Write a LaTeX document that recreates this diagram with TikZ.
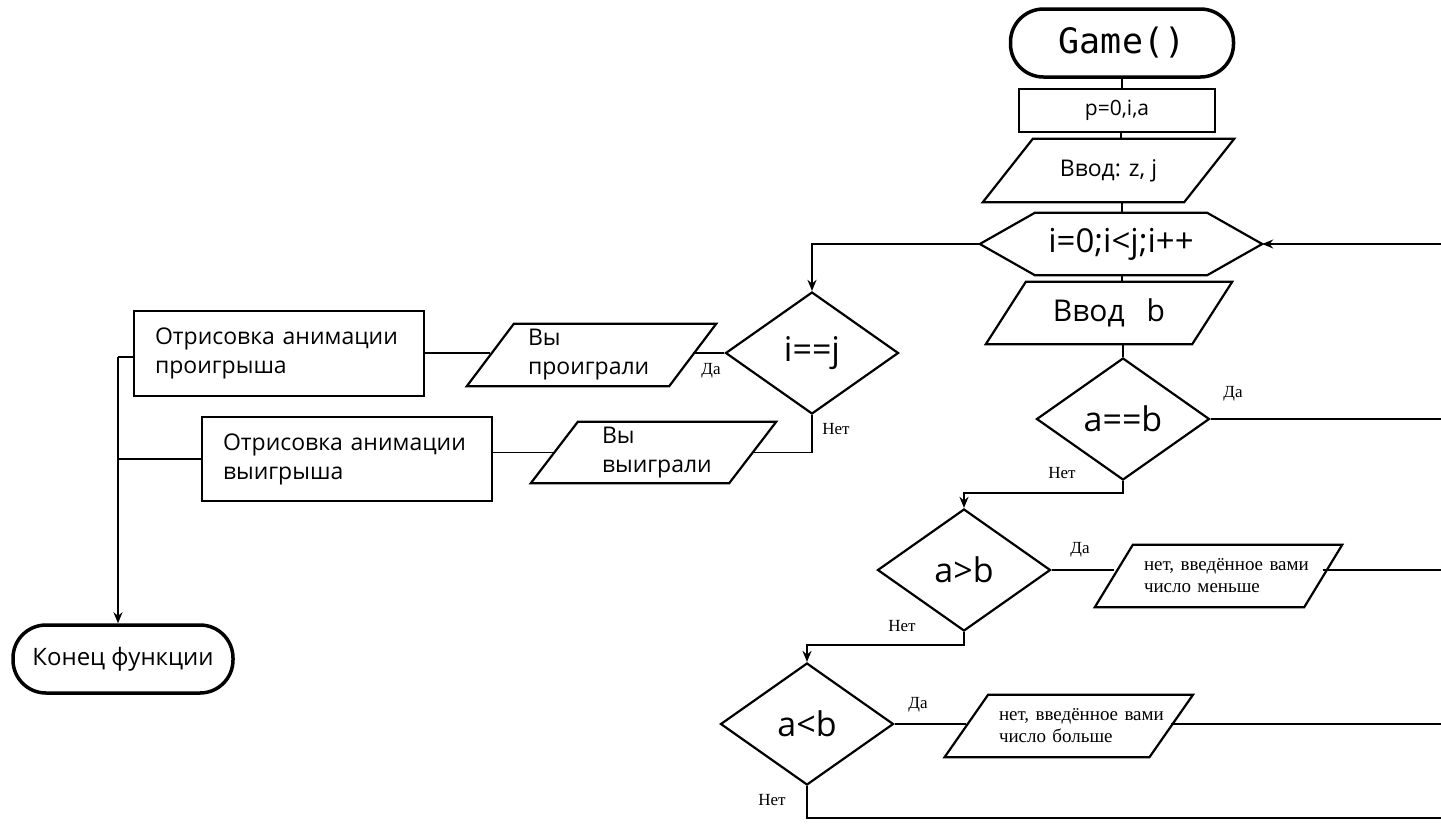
\documentclass[tikz,border=0pt]{standalone}
\usepackage{fontspec}
\setmainfont{Open Sans}
\newfontfamily\timesf{Liberation Serif}
\newfontfamily\monof{DejaVu Sans Mono}
\usetikzlibrary{shapes.geometric,arrows.meta}
\newcommand\drawpara[2]{\draw[shp] ([xshift=#2pt]#1.north west) -- ([xshift=#2pt]#1.north east) -- ([xshift=-#2pt]#1.south east) -- ([xshift=-#2pt]#1.south west) -- cycle;}
\tikzset{
  shp/.style={line width=2.2pt, line join=miter},
  conn/.style={line width=1.8pt},
  arr/.style={conn, -{Stealth[length=11pt,width=9pt]}},
  term/.style={draw, line width=3.5pt, rounded corners=33pt, inner sep=0pt},
  box/.style={draw, line width=2.6pt, inner sep=0pt},
  plain/.style={inner sep=0pt},
  dia/.style={diamond, draw, line width=2.2pt, inner sep=0pt, minimum width=173pt, minimum height=122pt, font=\fontsize{34}{38}\selectfont},
  lbl/.style={inner sep=0pt, font=\timesf\fontsize{17}{19}\selectfont},
  ptxt/.style={align=left, inner ysep=0pt, font=\fontsize{23}{29}\selectfont},
  stxt/.style={align=left, inner ysep=0pt, font=\timesf\fontsize{19}{22}\selectfont}
}
\begin{document}
\begin{tikzpicture}[x=1pt,y=-1pt]
\useasboundingbox (0,0) rectangle (1441,823);
% main column
\node[term, minimum width=223pt, minimum height=68pt, font=\monof\fontsize{35}{40}\selectfont] (game) at (1122,43) {Game()};
\node[box, line width=1.8pt, minimum width=196pt, minimum height=43pt, font=\fontsize{21}{24}\selectfont] (p0) at (1117,110.5) {p=0,i,a};
\node[plain, minimum width=201pt, minimum height=63pt, font=\fontsize{23}{26}\selectfont] (vz) at (1108.5,170.5) {Ввод: z, j};
\drawpara{vz}{25}
\node[plain, minimum width=172pt, minimum height=62pt, font=\fontsize{33}{36}\selectfont] (hex) at (1121,244) {i=0;i<j;i++};
\draw[shp] (hex.north west) -- (hex.north east) -- ([xshift=55pt]hex.east) -- (hex.south east) -- (hex.south west) -- ([xshift=-55pt]hex.west) -- cycle;
\coordinate (hexL) at ([xshift=-55pt]hex.west);
\coordinate (hexR) at ([xshift=55pt]hex.east);
\node[plain, minimum width=206pt, minimum height=62pt, font=\fontsize{30}{34}\selectfont] (vb) at (1109,313) {Ввод\hspace{22pt}b};
\drawpara{vb}{20}
\node[dia] (d1) at (1123,419) {a==b};
\node[dia] (d2) at (964,570) {a>b};
\node[dia] (d3) at (807,724) {a<b};
\node[dia] (dij) at (812,353) {i==j};
% output parallelograms right
\node[stxt, minimum width=209pt, minimum height=62pt, text width=149pt, inner xsep=30pt] (p3) at (1218.5,576) {\mbox{нет, введённое вами}\\\mbox{число меньше}};
\drawpara{p3}{19}
\node[stxt, minimum width=204.5pt, minimum height=62pt, text width=139.5pt, inner xsep=32.5pt] (p4) at (1068.75,726) {\mbox{нет, введённое вами}\\\mbox{число больше}};
\drawpara{p4}{21.75}
% left parallelograms
\node[ptxt, minimum width=202pt, minimum height=62pt, text width=127pt, inner xsep=37.5pt] (pl) at (591.5,355) {\mbox{Вы}\\\mbox{проиграли}};
\drawpara{pl}{23.5}
\node[ptxt, minimum width=198pt, minimum height=61pt, text width=103pt, inner xsep=47.5pt] (pw) at (653.5,452.5) {\mbox{Вы}\\\mbox{выиграли}};
\drawpara{pw}{23.5}
% left boxes
\node[box, ptxt, minimum width=290pt, minimum height=85pt, text width=248pt, inner xsep=21pt] (r1) at (279,353.5) {Отрисовка анимации\\проигрыша};
\node[box, ptxt, minimum width=290pt, minimum height=84pt, text width=248pt, inner xsep=21pt] (r2) at (347,459) {Отрисовка анимации\\выигрыша};
\node[term, minimum width=220pt, minimum height=68pt, font=\fontsize{24}{28}\selectfont] (endn) at (123,659) {Конец функции};
% connectors main column
\draw[conn] (game.south) -- (game.south |- p0.north);
\draw[conn] ([xshift=4pt]p0.south) -- ([xshift=4pt]p0.south |- vz.north);
\draw[conn] ([xshift=1pt]hex.north |- vz.south) -- ([xshift=1pt]hex.north);
\draw[conn] ([xshift=1pt]hex.south) -- ([xshift=1pt]hex.south |- vb.north);
\draw[conn] (d1.north |- vb.south) -- (d1.north);
\draw[arr] (hexL) -| (dij.north);
\coordinate (retR) at (1441,244);
\draw[arr] (retR) -- (hexR);
\coordinate (r1e) at (1441,419);
\draw[conn] (d1.east) -- (r1e);
\draw[arr] (d1.south) -- ++(0,12) -| (d2.north);
\draw[conn] (d2.east) -- (d2.east -| p3.west);
\coordinate (r2e) at (1441,570);
\draw[conn] (d2.east -| p3.east) -- (r2e);
\draw[arr] (d2.south) -- ++(0,13) -| (d3.north);
\draw[conn] (d3.east) -- (d3.east -| p4.west);
\coordinate (r3e) at (1441,724);
\draw[conn] (d3.east -| p4.east) -- (r3e);
\coordinate (r4e) at (1441,818);
\draw[conn] (d3.south) |- (r4e);
% left branch
\draw[conn] (dij.west) -- (dij.west -| pl.east);
\draw[conn] (pl.west |- dij.west) -- (r1.east |- dij.west);
\draw[conn] (dij.south) |- (pw.east);
\draw[conn] (pw.west) -- (pw.west -| r2.east);
\coordinate (bus) at (118,357);
\draw[conn] (r1.west |- bus) -- (bus);
\draw[conn] (r2.west) -- (r2.west -| bus);
\draw[arr] (bus) -- (bus |- endn.north);
% labels
\node[lbl] (l1) at (711,371) {Да};
\node[lbl] (l2) at (836,429) {Нет};
\node[lbl] (l3) at (1233,394) {Да};
\node[lbl] (l4) at (1062,473) {Нет};
\node[lbl] (l5) at (1080,550) {Да};
\node[lbl] (l6) at (902,626) {Нет};
\node[lbl] (l7) at (918,705) {Да};
\node[lbl] (l8) at (772,800) {Нет};
\end{tikzpicture}
\end{document}
